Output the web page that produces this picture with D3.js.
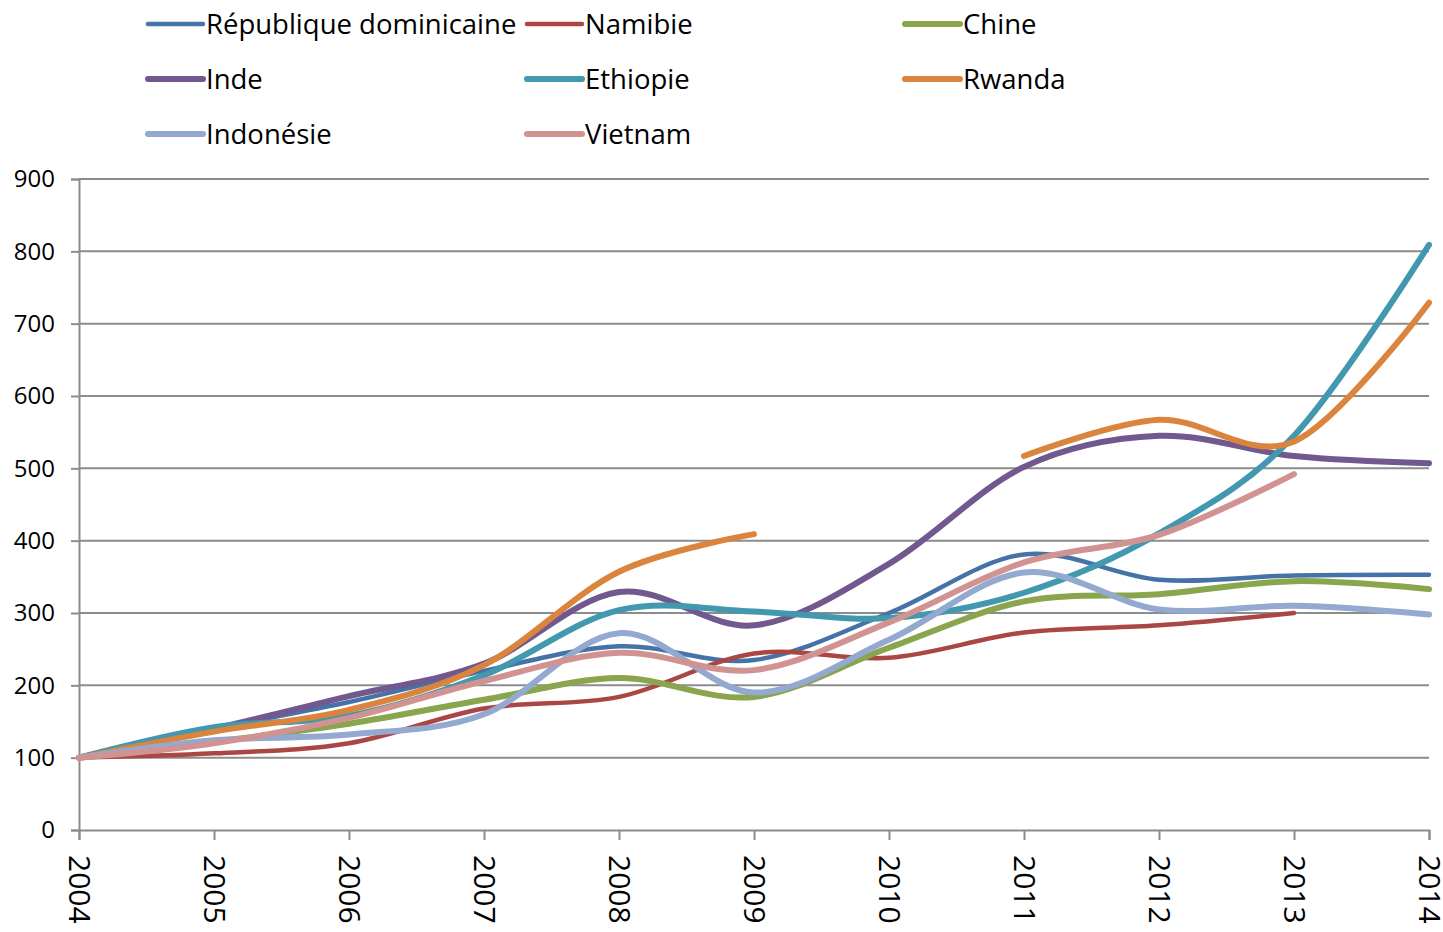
<!DOCTYPE html>
<html>
<head>
<meta charset="utf-8">
<script src="https://cdn.jsdelivr.net/npm/d3@7"></script>
<style>
  body { margin: 0; background: #fff; }
  svg { display: block; }
</style>
</head>
<body>
<div id="chart"></div>
<script>
// years on the x axis
var years = [2004, 2005, 2006, 2007, 2008, 2009, 2010, 2011, 2012, 2013, 2014]
var yTicks = [0, 100, 200, 300, 400, 500, 600, 700, 800, 900]

// index values, null where the series has no point
var repDominicaine = [100, 140, 177, 220, 254, 235, 300, 381, 346, 352, 353]
var namibie = [100, 106, 120, 168, 184, 244, 238, 273, 283, 300, null]
var chine = [100, 122, 147, 180, 210, 184, 252, 316, 326, 344, 333]
var inde = [100, 140, 185, 230, 329, 283, 368, 502, 545, 517, 507]
var ethiopie = [100, 142, 158, 214, 304, 302, 293, 328, 410, 545, 809]
var rwanda = [100, 136, 166, 228, 357, 409, null, 517, 567, 537, 729]
var indonesie = [100, 124, 132, 160, 272, 190, 263, 356, 305, 310, 298]
var vietnam = [100, 120, 155, 206, 245, 221, 287, 370, 408, 492, null]

var seriesNames = ['République dominicaine', 'Namibie', 'Chine', 'Inde', 'Ethiopie', 'Rwanda', 'Indonésie', 'Vietnam']
var seriesValues = [repDominicaine, namibie, chine, inde, ethiopie, rwanda, indonesie, vietnam]
var seriesColors = ['#4572A7', '#AA4643', '#89A54E', '#71588F', '#4198AF', '#DB843D', '#93A9CF', '#D19392']
var seriesWidths = [4.5, 4.5, 6, 6, 6, 6, 6, 6]

var width = 1443
var height = 932
var plot = { left: 79, right: 1429, top: 179, bottom: 830 }

var svg = d3.select('#chart')
  .append('svg')
  .attr('width', width)
  .attr('height', height)

var x = d3.scaleLinear()
  .domain([2004, 2014])
  .range([plot.left, plot.right])

var y = d3.scaleLinear()
  .domain([0, 900])
  .range([plot.bottom, plot.top])

// horizontal gridlines
svg.append('g')
  .selectAll('line')
  .data(yTicks.slice(1))
  .enter().append('line')
  .attr('x1', plot.left)
  .attr('x2', plot.right)
  .attr('y1', function (d) { return y(d) })
  .attr('y2', function (d) { return y(d) })
  .attr('stroke', '#8c8c8c')
  .attr('stroke-width', 2)

// y axis
var yAxis = svg.append('g')
  .attr('transform', 'translate(' + plot.left + ',0)')
  .call(d3.axisLeft(y).tickValues(yTicks).tickSize(8).tickPadding(16).tickFormat(d3.format('d')))
yAxis.select('.domain').attr('stroke', '#8c8c8c').attr('stroke-width', 2)
yAxis.selectAll('.tick line').attr('stroke', '#8c8c8c').attr('stroke-width', 2)
yAxis.selectAll('.tick text')
  .attr('font-family', '"Open Sans", sans-serif')
  .attr('font-size', 24)
  .attr('fill', '#000')

// x axis, labels turned to read downwards
var xAxis = svg.append('g')
  .attr('transform', 'translate(0,' + plot.bottom + ')')
  .call(d3.axisBottom(x).tickValues(years).tickSize(10).tickFormat(d3.format('d')))
xAxis.select('.domain').attr('stroke', '#8c8c8c').attr('stroke-width', 2)
xAxis.selectAll('.tick line').attr('stroke', '#8c8c8c').attr('stroke-width', 2)
xAxis.selectAll('.tick text')
  .attr('font-family', '"Open Sans", sans-serif')
  .attr('font-size', 30)
  .attr('fill', '#000')
  .attr('text-anchor', 'start')
  .attr('dy', '0.35em')
  .attr('transform', 'translate(0,25) rotate(90)')
  .attr('x', 0)
  .attr('y', 0)

// smoothed lines, broken where a value is missing
var line = d3.line()
  .defined(function (d) { return d.v !== null })
  .x(function (d) { return x(d.year) })
  .y(function (d) { return y(d.v) })
  .curve(d3.curveCatmullRom.alpha(0))

svg.append('g')
  .selectAll('path')
  .data(seriesValues)
  .enter().append('path')
  .attr('d', function (vals) {
    return line(vals.map(function (v, i) { return { year: years[i], v: v } }))
  })
  .attr('fill', 'none')
  .attr('stroke', function (d, i) { return seriesColors[i] })
  .attr('stroke-width', function (d, i) { return seriesWidths[i] })
  .attr('stroke-linecap', 'round')
  .attr('stroke-linejoin', 'round')

// legend, three columns
var legendCols = [148, 527, 905]
var legendRows = [24, 79, 134]
var legend = svg.append('g')
  .selectAll('g')
  .data(seriesNames)
  .enter().append('g')
  .attr('transform', function (d, i) {
    return 'translate(' + legendCols[i % 3] + ',' + legendRows[Math.floor(i / 3)] + ')'
  })

legend.append('line')
  .attr('x1', 0)
  .attr('x2', 55)
  .attr('stroke', function (d, i) { return seriesColors[i] })
  .attr('stroke-width', function (d, i) { return seriesWidths[i] })
  .attr('stroke-linecap', 'round')

legend.append('text')
  .attr('x', 58)
  .attr('dy', '0.35em')
  .attr('font-family', '"Open Sans", sans-serif')
  .attr('font-size', 27.5)
  .attr('fill', '#000')
  .text(function (d) { return d })
</script>
</body>
</html>
